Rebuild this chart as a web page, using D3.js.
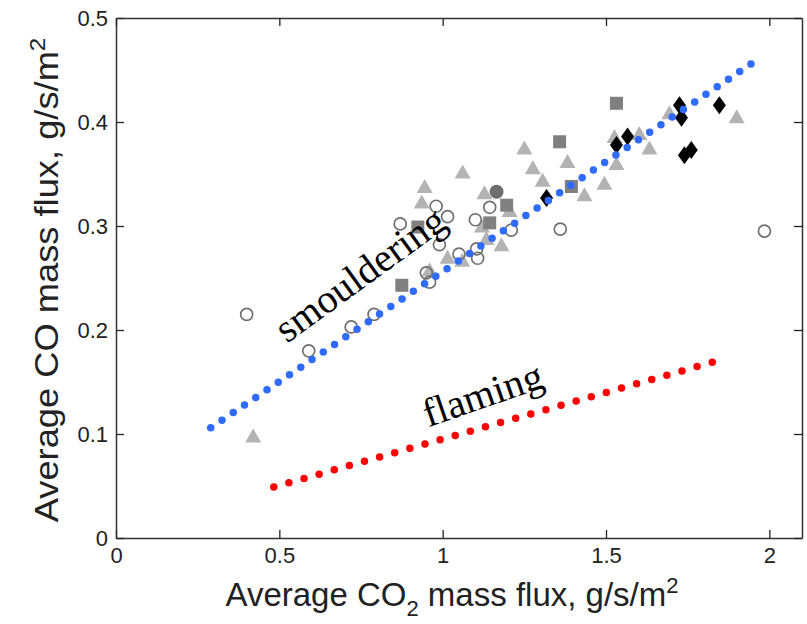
<html>
<head>
<script src="https://cdnjs.cloudflare.com/ajax/libs/d3/7.8.5/d3.min.js"></script>
<style>
  body { margin: 0; background: #fff; }
  text { font-family: "Liberation Sans", Arial, sans-serif; }
</style>
</head>
<body>
<script>
// data: [CO2 flux, CO flux]
var openCircles = [[0.40,0.215],[0.59,0.18],[0.72,0.203],[0.79,0.215],[0.87,0.302],[0.95,0.255],[0.96,0.246],
  [0.98,0.319],[0.99,0.282],[1.015,0.309],[1.10,0.306],[1.144,0.318],[1.05,0.273],[1.107,0.269],[1.104,0.278],
  [1.21,0.296],[1.36,0.297],[1.985,0.295]];
var triangles = [[0.42,0.098],[0.945,0.338],[0.936,0.323],[1.061,0.352],[1.128,0.332],[1.12,0.30],[1.134,0.288],
  [1.015,0.27],[0.96,0.258],[1.18,0.282],[1.06,0.267],[1.205,0.315],[1.25,0.375],[1.276,0.356],[1.306,0.344],
  [1.382,0.362],[1.434,0.33],[1.495,0.341],[1.532,0.36],[1.526,0.386],[1.602,0.389],[1.633,0.375],[1.694,0.409],[1.90,0.405]];
var squares = [[0.875,0.243],[0.924,0.299],[1.144,0.303],[1.196,0.32],[1.358,0.381],[1.394,0.338],[1.532,0.418]];
var darkCircles = [[1.165,0.333]];
var diamonds = [[1.318,0.327],[1.532,0.378],[1.566,0.386],[1.725,0.416],[1.731,0.404],[1.847,0.416],[1.74,0.368],[1.761,0.373]];
// fitted lines (end points)
var smoulderLine = [[0.29,0.106],[1.945,0.456]];
var flamingLine = [[0.483,0.049],[1.826,0.169]];
var xTicks = [0, 0.5, 1, 1.5, 2];
var yTicks = [0, 0.1, 0.2, 0.3, 0.4, 0.5];

var W = 807, H = 624;
var margin = {top: 18, right: 5, bottom: 86, left: 116};
var width = W - margin.left - margin.right,
    height = H - margin.top - margin.bottom;

var svg = d3.select("body").append("svg")
    .attr("width", W)
    .attr("height", H);

var g = svg.append("g")
    .attr("transform", "translate(" + margin.left + "," + margin.top + ")");

var x = d3.scaleLinear().domain([0, 2.1]).range([0, width]);
var y = d3.scaleLinear().domain([0, 0.5]).range([height, 0]);

// axes, MATLAB style ticks inside and mirrored
g.append("g").attr("transform", "translate(0," + height + ")")
    .call(d3.axisBottom(x).tickValues(xTicks).tickSizeInner(-8).tickSizeOuter(0).tickPadding(9).tickFormat(d3.format("")));
g.append("g")
    .call(d3.axisLeft(y).tickValues(yTicks).tickSizeInner(-8).tickSizeOuter(0).tickPadding(8).tickFormat(d3.format("")));
g.append("g")
    .call(d3.axisTop(x).tickValues(xTicks).tickSizeInner(-8).tickSizeOuter(0).tickFormat(""));
g.append("g").attr("transform", "translate(" + width + ",0)")
    .call(d3.axisRight(y).tickValues(yTicks).tickSizeInner(-8).tickSizeOuter(0).tickFormat(""));
g.selectAll(".domain").attr("stroke", "#333").attr("stroke-width", 1.5);
g.selectAll(".tick line").attr("stroke", "#222").attr("stroke-width", 1.3);
g.selectAll(".tick text").attr("font-size", 22).attr("fill", "#222")
    .attr("font-family", "Liberation Sans, Arial, sans-serif");

// markers
g.selectAll(".tri").data(triangles).enter().append("path")
    .attr("class", "tri")
    .attr("transform", function(d) { return "translate(" + x(d[0]) + "," + y(d[1]) + ")"; })
    .attr("d", "M0,-7.5L8,6.5L-8,6.5Z")
    .attr("fill", "#b3b3b3");

g.selectAll(".sq").data(squares).enter().append("rect")
    .attr("class", "sq")
    .attr("x", function(d) { return x(d[0]) - 6.5; })
    .attr("y", function(d) { return y(d[1]) - 6.5; })
    .attr("width", 13).attr("height", 13)
    .attr("fill", "#808080");

g.selectAll(".dc").data(darkCircles).enter().append("circle")
    .attr("cx", function(d) { return x(d[0]); })
    .attr("cy", function(d) { return y(d[1]); })
    .attr("r", 7)
    .attr("fill", "#6e6e6e");

g.selectAll(".oc").data(openCircles).enter().append("circle")
    .attr("class", "oc")
    .attr("cx", function(d) { return x(d[0]); })
    .attr("cy", function(d) { return y(d[1]); })
    .attr("r", 6)
    .attr("fill", "none")
    .attr("stroke", "#707070")
    .attr("stroke-width", 1.7);

g.selectAll(".dia").data(diamonds).enter().append("path")
    .attr("class", "dia")
    .attr("transform", function(d) { return "translate(" + x(d[0]) + "," + y(d[1]) + ")"; })
    .attr("d", "M0,-9L6.5,0L0,9L-6.5,0Z")
    .attr("fill", "#000");

// dotted fit lines, gap chosen so a dot sits on each end
var line = d3.line().x(function(d) { return x(d[0]); }).y(function(d) { return y(d[1]); });
function dotted(data, color, step) {
  var p = g.append("path").datum(data)
      .attr("d", line)
      .attr("fill", "none")
      .attr("stroke", color)
      .attr("stroke-width", 7.5)
      .attr("stroke-linecap", "round");
  var len = p.node().getTotalLength();
  var gap = len / Math.round(len / step) - 0.01;
  p.attr("stroke-dasharray", "0 " + gap);
}
dotted(smoulderLine, "#2f6bff", 13.6);
dotted(flamingLine, "#ff0000", 15.7);

// annotations
svg.append("text")
    .attr("transform", "translate(368,285) rotate(-36)")
    .attr("text-anchor", "middle")
    .style("font-family", "Liberation Serif, serif")
    .attr("font-size", 40)
    .text("smouldering");
svg.append("text")
    .attr("transform", "translate(487,407) rotate(-19)")
    .attr("text-anchor", "middle")
    .style("font-family", "Liberation Serif, serif")
    .attr("font-size", 40)
    .text("flaming");

// axis labels
var xl = svg.append("text")
    .attr("x", 452).attr("y", 606)
    .attr("text-anchor", "middle")
    .attr("font-size", 33)
    .attr("fill", "#222");
xl.append("tspan").text("Average CO");
xl.append("tspan").attr("font-size", 22).attr("dy", 10).text("2");
xl.append("tspan").attr("dy", -10).text(" mass flux, g/s/m");
xl.append("tspan").attr("font-size", 22).attr("dy", -13).text("2");

var yl = svg.append("text")
    .attr("transform", "translate(58,280) rotate(-90) scale(1.1,1)")
    .attr("text-anchor", "middle")
    .attr("font-size", 33)
    .attr("fill", "#222");
yl.append("tspan").text("Average CO mass flux, g/s/m");
yl.append("tspan").attr("font-size", 22).attr("dy", -13).text("2");
</script>
</body>
</html>
